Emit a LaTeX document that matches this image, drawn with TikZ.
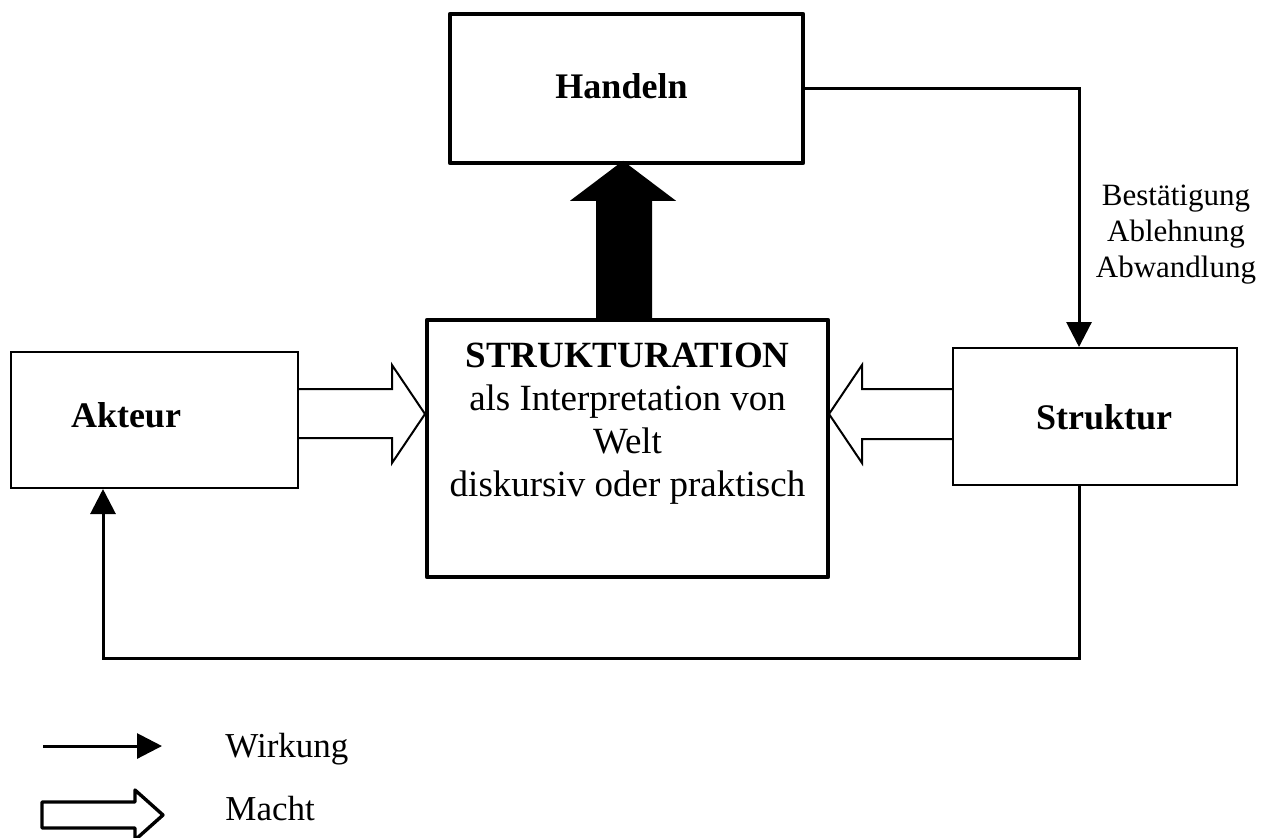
\documentclass[tikz,border=0pt]{standalone}
\usepackage{fontspec}
\setmainfont{Liberation Serif}
\usetikzlibrary{arrows.meta,calc}

\tikzset{
  dick/.style={draw, line width=2.2pt, line join=round, inner sep=0pt},
  duenn/.style={draw, line width=1pt, inner sep=0pt},
  wirkung/.style={line width=1.5pt, -{Triangle[length=12.5pt,width=12.5pt]}},
  macht/.style={line width=1pt},
  titel/.style={font=\fontsize{18}{21}\selectfont\bfseries, inner sep=0pt}
}

\begin{document}
\begin{tikzpicture}[x=0.5pt,y=-0.5pt]
\useasboundingbox (0,0) rectangle (1277,837);
% Kaesten
\node[dick, minimum width=176.5pt, minimum height=74.5pt] (handeln) at (626.5,88.5) {};
\node[dick, minimum width=200.5pt, minimum height=128.5pt] (strukt) at (627.5,448.5) {};
\node[duenn, minimum width=143.5pt, minimum height=68pt] (akteur) at (154.5,420) {};
\node[duenn, minimum width=142pt, minimum height=68.5pt] (struktur) at (1095,416.5) {};
\node[titel, anchor=base] (handelntxt) at (621.5,98) {Handeln};
\node[titel, anchor=base] (akteurtxt) at (126,427) {Akteur};
\node[titel, anchor=base] (strukturtxt) at (1104,429) {Struktur};
\node[align=center, inner sep=0pt, font=\fontsize{18.5}{21.5}\selectfont] (struktxt) at (627.5,424)
  {\textbf{STRUKTURATION}\\als Interpretation von\\Welt\\diskursiv oder praktisch};
% schwarzer Pfeil
\fill ($(strukt.north)+(-31.5,0)$) -- ++(0,-117) -- ++(-26,0) -- ++(53,-40) -- ++(53,40) -- ++(-24,0) -- ++(0,117) -- cycle;
% Macht
\draw[macht] ($(akteur.east)+(0,-31)$) -- ++(93,0) -- ++(0,-24) -- ++(33,49) -- ++(-33,49) -- ++(0,-25) -- ++(-93,0);
\draw[macht] ($(struktur.west)+(0,-27.5)$) -- ++(-90,0) -- ++(0,-24) -- ++(-33,49) -- ++(33,49) -- ++(0,-24) -- ++(90,0);
% Wirkung
\coordinate (knick) at (1079,0);
\coordinate (ecke) at (103,658);
\draw[wirkung] (handeln.east) -| (knick |- struktur.north);
\draw[wirkung] (knick |- struktur.south) |- (ecke) -- (ecke |- akteur.south);
\node[align=center, inner sep=0pt, font=\fontsize{15.5}{18}\selectfont] (aenderung) at (1176,235)
  {Bestätigung\\Ablehnung\\Abwandlung};
% Legende
\coordinate (w1) at (43,746);
\coordinate (w2) at (162,746);
\draw[wirkung] (w1) -- (w2);
\node[anchor=base west, inner sep=0pt, font=\fontsize{17.5}{20}\selectfont] (wirkungtxt) at (225,757) {Wirkung};
\draw[line width=1.7pt, line join=round] (42,802) -- (135,802) -- (135,790) -- (163,815) -- (135,840) -- (135,828) -- (42,828) -- cycle;
\node[anchor=base west, inner sep=0pt, font=\fontsize{17.5}{20}\selectfont] (machttxt) at (225,820) {Macht};
\end{tikzpicture}
\end{document}
